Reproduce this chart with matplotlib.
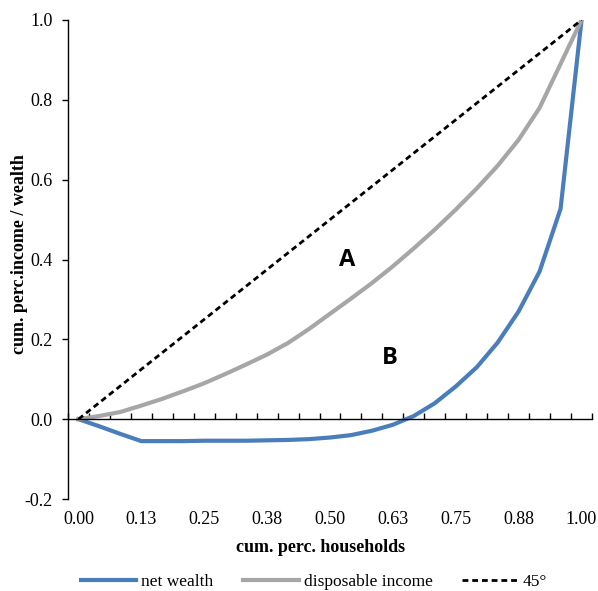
#!/usr/bin/env python3
"""Lorenz curves: net wealth vs disposable income (Excel-style category axis)."""

import matplotlib
matplotlib.use("Agg")
import matplotlib.pyplot as plt

# ---------------------------------------------------------------------------
# data (25 categories, cumulative share of households)
# ---------------------------------------------------------------------------
hh_share = [0.0, 0.0417, 0.0833, 0.125, 0.1667, 0.2083, 0.25, 0.2917, 0.3333,
            0.375, 0.4167, 0.4583, 0.5, 0.5417, 0.5833, 0.625, 0.6667, 0.7083,
            0.75, 0.7917, 0.8333, 0.875, 0.9167, 0.9583, 1.0]

net_wealth = [0.0, -0.018, -0.037, -0.055, -0.055, -0.055, -0.054, -0.054,
              -0.054, -0.053, -0.052, -0.050, -0.046, -0.040, -0.029, -0.014,
              0.008, 0.040, 0.082, 0.130, 0.192, 0.270, 0.370, 0.527, 1.0]

disp_income = [0.0, 0.008, 0.018, 0.034, 0.051, 0.070, 0.090, 0.113, 0.137,
               0.162, 0.191, 0.226, 0.264, 0.302, 0.341, 0.383, 0.428, 0.475,
               0.525, 0.578, 0.635, 0.700, 0.780, 0.890, 1.0]

x_tick_labels = ["0.00", "0.13", "0.25", "0.38", "0.50", "0.63", "0.75", "0.88", "1.00"]
y_ticks = [-0.2, 0.0, 0.2, 0.4, 0.6, 0.8, 1.0]

# ---------------------------------------------------------------------------
# style
# ---------------------------------------------------------------------------
W, H = 598, 591
DPI = 100
BLUE = "#4A7EBB"
GRAY = "#A6A6A6"
SERIF = "Liberation Serif"
FS = 13

plt.rcParams["font.family"] = [SERIF, "DejaVu Serif"]

fig = plt.figure(figsize=(W / DPI, H / DPI), dpi=DPI)
ax = fig.add_axes([68 / W, 1 - 499 / H, 524 / W, 479 / H])

idx = list(range(len(hh_share)))

ax.plot(idx, net_wealth, color=BLUE, lw=3.0, label="net wealth", solid_joinstyle="round")
ax.plot(idx, disp_income, color=GRAY, lw=3.0, label="disposable income", solid_joinstyle="round")
ax.plot(idx, hh_share, color="black", lw=2.0, ls=(0, (2.1, 1.4)), label="45°")

ax.set_xlim(-0.5, len(idx) - 0.5)
ax.set_ylim(-0.2, 1.0)

# spines: only left one, x axis line crosses at zero
for s in ["top", "right"]:
    ax.spines[s].set_visible(False)
ax.spines["bottom"].set_position(("data", 0))
ax.spines["left"].set_linewidth(1.0)
ax.spines["bottom"].set_linewidth(1.0)

ax.set_xticks([i - 0.5 for i in range(len(idx) + 1)])
ax.tick_params(axis="x", direction="in", length=4.5, width=1.0, labelbottom=False)

ax.set_yticks(y_ticks)
ax.set_yticklabels([f"{v:.1f}" for v in y_ticks])
ax.tick_params(axis="y", direction="out", length=4, width=1.0, pad=7, labelsize=FS)

# category labels at the bottom of the plot area
sec = ax.secondary_xaxis("bottom")
sec.spines["bottom"].set_visible(False)
sec.set_xticks(idx[::3])
sec.set_xticklabels(x_tick_labels)
sec.tick_params(length=0, pad=9, labelsize=FS)

fig.text(321 / W, 1 - 548 / H, "cum. perc. households", ha="center", va="center",
         fontsize=FS, fontweight="bold")
fig.text(20 / W, 1 - 254 / H, "cum. perc.income / wealth", ha="center", va="center",
         rotation=90, fontsize=FS, fontweight="bold")

# area annotations
ax.text(12.8, 0.40, "A", ha="center", va="center", fontsize=17, fontweight="bold",
        family="Open Sans")
ax.text(14.85, 0.152, "B", ha="center", va="center", fontsize=17, fontweight="bold",
        family="Open Sans")

fig.legend(loc="center", bbox_to_anchor=(314 / W, 1 - 582 / H), ncol=3, frameon=False,
           fontsize=12.5, handlelength=3.2, handletextpad=0.3, columnspacing=1.7,
           borderaxespad=0, borderpad=0)

fig.savefig("out.png", dpi=DPI)
